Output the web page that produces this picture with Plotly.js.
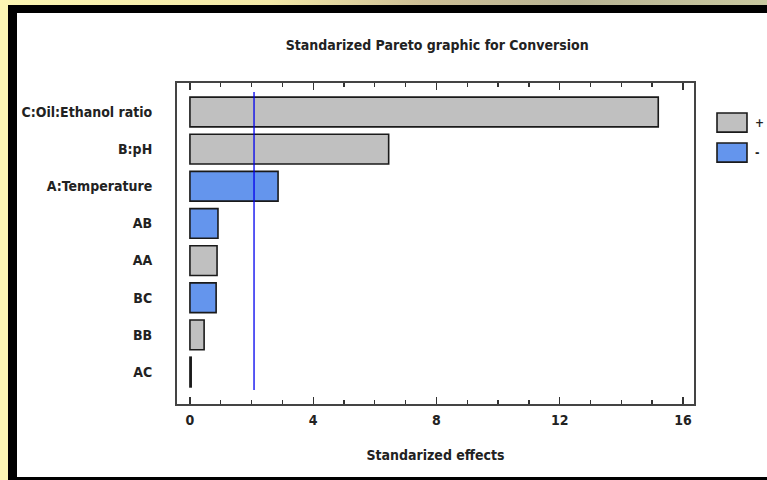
<!DOCTYPE html>
<html>
<head>
<meta charset="utf-8">
<script src="https://cdn.plot.ly/plotly-3.0.1.min.js"></script>
<style>
  html, body { margin: 0; padding: 0; }
  body { width: 767px; height: 480px; position: relative; overflow: hidden;
         background: #fcf6b4; }
  #topstrip { position: absolute; left: 0; top: 0; width: 767px; height: 6px;
         background: linear-gradient(to right, #fcf6b4 0%, #f3e9a8 35%, #cdbf96 55%, #b8b494 75%, #c9c9a0 100%); }
  #frame { position: absolute; left: 8px; top: 5px; width: 759px; height: 475px;
         box-sizing: border-box; background: #ffffff;
         border-left: 9px solid #000; border-top: 8px solid #000; border-bottom: 3px solid #000; }
  #chart { position: absolute; left: 0; top: 0; width: 767px; height: 480px; }
</style>
</head>
<body>
<div id="topstrip"></div>
<div id="frame"></div>
<div id="chart"></div>
<script>
// ---- data ----
const factors = ["C:Oil:Ethanol ratio", "B:pH", "A:Temperature", "AB", "AA", "BC", "BB", "AC"];
const effects = [15.2, 6.45, 2.86, 0.91, 0.88, 0.85, 0.46, 0.04];
const signs   = ["+", "+", "-", "-", "+", "-", "+", "+"];
const criticalValue = 2.08;
const xTicks = [0, 4, 8, 12, 16];
const legendSigns = ["+", "-"];

const colorFor = { "+": "#c0c0c0", "-": "#6495ed" };
const FONT = "'Liberation Sans Narrow', 'DejaVu Sans Condensed', Arial, sans-serif";

const trace = {
  type: "bar",
  orientation: "h",
  y: factors,
  x: effects,
  width: 0.8,
  marker: { color: signs.map(s => colorFor[s]), line: { color: "#1a1a1a", width: 1.6 } },
  hoverinfo: "x+y",
  showlegend: false
};

const shapes = [
  { type: "line", xref: "x", yref: "paper", x0: criticalValue, x1: criticalValue,
    y0: 0.044, y1: 0.972, line: { color: "#0000ee", width: 1.3 } }
];
const annotations = [];
legendSigns.forEach((s, i) => {
  const yTop = 0.9065 - i * 0.0935;
  shapes.push({ type: "rect", xref: "paper", yref: "paper", x0: 1.0445, x1: 1.1025,
    y0: yTop - 0.0595, y1: yTop, fillcolor: colorFor[s], line: { color: "#1a1a1a", width: 1.6 } });
  annotations.push({ xref: "paper", yref: "paper", x: 1.114, y: yTop - 0.03, text: s,
    showarrow: false, xanchor: "left", yanchor: "middle",
    font: { family: FONT, size: 12, color: "#222", weight: "bold" } });
});

const layout = {
  width: 767, height: 480,
  margin: { l: 177, r: 73, t: 83, b: 76 },
  paper_bgcolor: "rgba(0,0,0,0)",
  plot_bgcolor: "#ffffff",
  title: { text: "Standarized Pareto graphic for Conversion", yref: "container",
    y: 0.906, yanchor: "middle", x: 0.57, xanchor: "center",
    font: { family: FONT, size: 14, color: "#222", weight: "bold" } },
  xaxis: {
    range: [-0.42, 16.36],
    tickvals: xTicks,
    ticks: "inside", ticklen: 7, tickwidth: 1.3, tickcolor: "#333",
    minor: { dtick: 1, tick0: 0, ticks: "inside", ticklen: 4, tickwidth: 1.3, tickcolor: "#333" },
    showline: true, linecolor: "#444", linewidth: 2, mirror: "ticks",
    showgrid: false, zeroline: false,
    ticklabelstandoff: 2,
    tickfont: { family: FONT, size: 14, color: "#222", weight: "bold" },
    title: { text: "Standarized effects", standoff: 23,
      font: { family: FONT, size: 14, color: "#222", weight: "bold" } }
  },
  yaxis: {
    type: "category",
    range: [7.86, -0.78],
    ticks: "", showline: true, linecolor: "#444", linewidth: 2, mirror: true,
    showgrid: false, zeroline: false,
    ticklabelstandoff: 20,
    tickfont: { family: FONT, size: 14, color: "#222", weight: "bold" }
  },
  shapes: shapes,
  annotations: annotations,
  showlegend: false
};

Plotly.newPlot("chart", [trace], layout, { displayModeBar: false, staticPlot: true });
</script>
</body>
</html>
